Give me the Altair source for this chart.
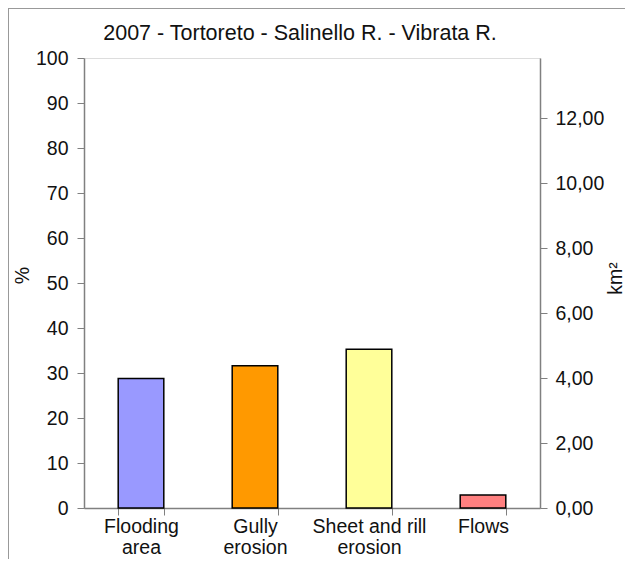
import altair as alt
import pandas as pd

categories = ["Flooding area", "Gully erosion", "Sheet and rill erosion", "Flows"]
label_lines = [["Flooding", "area"], ["Gully", "erosion"], ["Sheet and rill", "erosion"], ["Flows"]]
percent = [28.8, 31.6, 35.3, 2.9]
colors = ["#9999FF", "#FF9900", "#FFFF99", "#FF8080"]
km2_max = 13.85
km2_ticks = [0, 2, 4, 6, 8, 10, 12]
pct_ticks = [0, 10, 20, 30, 40, 50, 60, 70, 80, 90, 100]
title_text = "2007 - Tortoreto - Salinello R. - Vibrata R."

df = pd.DataFrame({"cat": categories, "pct": percent})

label_map = "{" + ",".join(
    "'" + c + "':[" + ",".join("'" + l + "'" for l in ls) + "]" for c, ls in zip(categories, label_lines)
) + "}"

FONT = "Liberation Sans"
AXC = "#808080"
TXT = "#111111"
FS = 19.5

x_enc = alt.X(
    "cat:N", sort=categories, title=None,
    scale=alt.Scale(paddingInner=0.6, paddingOuter=0.3),
    axis=alt.Axis(
        labelAngle=0, labelFontSize=FS, labelColor=TXT, labelFont=FONT,
        labelExpr=label_map + "[datum.label]", labelLineHeight=21, labelPadding=2,
        tickBand="extent", tickColor=AXC, tickSize=7, tickOffset=0,
        domainColor=AXC, domainWidth=1.5, labelBaseline="top",
    ),
)

bars = alt.Chart(df).mark_bar(stroke="black", strokeWidth=1.5).encode(
    x=x_enc,
    y=alt.Y(
        "pct:Q", title="%",
        scale=alt.Scale(domain=[0, 100], nice=False),
        axis=alt.Axis(
            values=pct_ticks, labelFontSize=FS, labelColor=TXT, labelFont=FONT,
            titleFont=FONT, titleFontSize=FS, titleFontWeight="normal", titleColor=TXT,
            titleX=-62, titleY=217, titleBaseline="middle", titleAngle=270,
            tickColor=AXC, tickSize=7, tickOffset=0, labelPadding=9,
            domainColor=AXC, domainWidth=1.5, grid=False,
        ),
    ),
    color=alt.Color("cat:N", scale=alt.Scale(domain=categories, range=colors), legend=None),
)

right = alt.Chart(df).transform_calculate(
    km2="datum.pct / 100 * " + str(km2_max)
).mark_bar(opacity=0).encode(
    x=alt.X("cat:N", sort=categories),
    y=alt.Y(
        "km2:Q", title="km²",
        scale=alt.Scale(domain=[0, km2_max], nice=False),
        axis=alt.Axis(
            orient="right", values=km2_ticks, labelFontSize=FS, labelColor=TXT, labelFont=FONT,
            labelExpr="replace(format(datum.value, '.2f'), '.', ',')",
            titleFont=FONT, titleFontSize=FS, titleFontWeight="normal", titleColor=TXT,
            titleX=75, titleY=220, titleBaseline="middle", titleAngle=270,
            tickColor=AXC, tickSize=7, tickOffset=0, labelPadding=8,
            domainColor=AXC, domainWidth=1.5, grid=False,
        ),
    ),
)

frame_top = alt.Chart(df).mark_rule(color="#999999", strokeWidth=1.5).encode(
    x=alt.value(-76), x2=alt.value(600), y=alt.value(-50)
)
frame_left = alt.Chart(df).mark_rule(color="#999999", strokeWidth=1.5).encode(
    x=alt.value(-76), y=alt.value(-50), y2=alt.value(560)
)

chart = alt.layer(bars, right, frame_top, frame_left).resolve_scale(y="independent").properties(
    width=456, height=450,
    title=alt.Title(title_text, font=FONT, fontSize=21.5, fontWeight="normal", color=TXT,
                    offset=0, dy=59, dx=-12, baseline="bottom"),
    autosize=alt.AutoSizeParams(type="none"),
    padding={"left": 76, "top": 50, "right": 85, "bottom": 51},
).configure_view(stroke=AXC, strokeWidth=1.5).configure(background="white")

chart.save("out.html", embed_options={"renderer": "svg", "actions": False})
